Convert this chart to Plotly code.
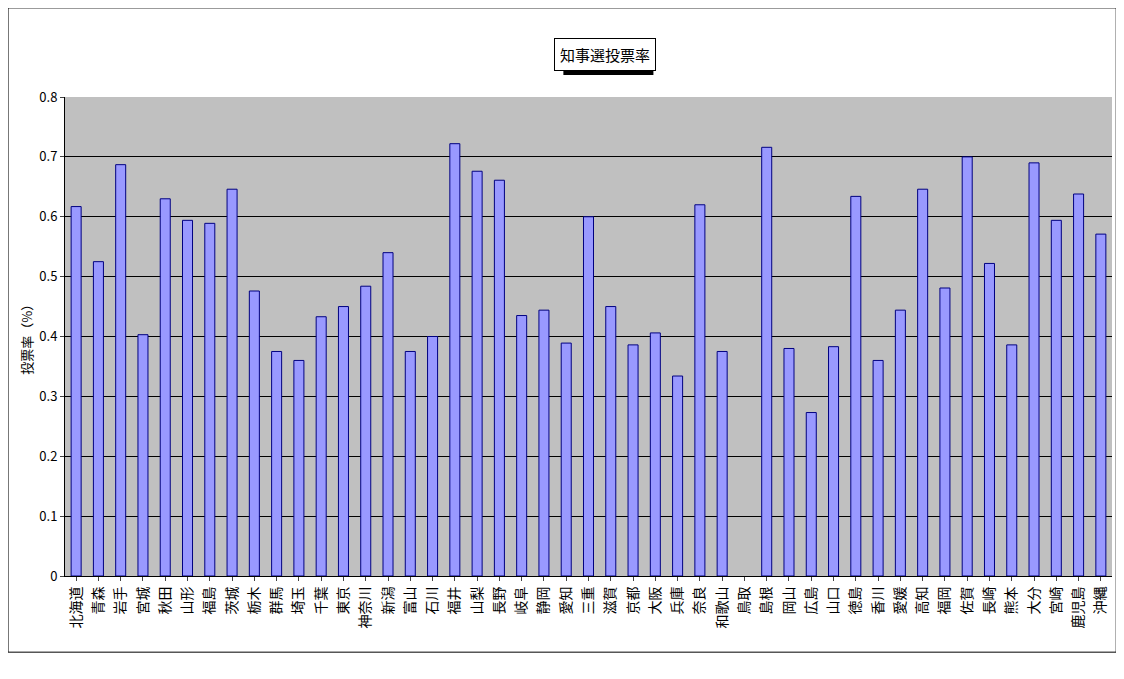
import plotly.graph_objects as go

prefs = ["北海道","青森","岩手","宮城","秋田","山形","福島","茨城","栃木","群馬","埼玉","千葉","東京","神奈川","新潟","富山","石川","福井","山梨","長野","岐阜","静岡","愛知","三重","滋賀","京都","大阪","兵庫","奈良","和歌山","鳥取","島根","岡山","広島","山口","徳島","香川","愛媛","高知","福岡","佐賀","長崎","熊本","大分","宮崎","鹿児島","沖縄"]
rates = [0.617,0.525,0.687,0.403,0.630,0.594,0.589,0.646,0.476,0.375,0.360,0.433,0.450,0.484,0.540,0.375,0.400,0.722,0.676,0.661,0.435,0.444,0.389,0.600,0.450,0.386,0.406,0.334,0.620,0.375,None,0.716,0.380,0.273,0.383,0.634,0.360,0.444,0.646,0.481,0.700,0.522,0.386,0.690,0.594,0.638,0.571]
yticks = [0,0.1,0.2,0.3,0.4,0.5,0.6,0.7,0.8]
yticklabels = ["0","0.1","0.2","0.3","0.4","0.5","0.6","0.7","0.8"]

fig = go.Figure(go.Bar(x=prefs, y=rates, width=0.45,
                       marker=dict(color="#9999ff", line=dict(color="#000080", width=1))))
font = "Noto Sans CJK JP"
fig.update_layout(
    width=1124, height=679, paper_bgcolor="white", plot_bgcolor="#c0c0c0",
    margin=dict(l=57, r=20, t=89, b=111),
    font=dict(family=font, size=13, color="black"),
    showlegend=False, bargap=0.5,
    annotations=[dict(text="知事選投票率", x=0.516, y=1.089, xref="paper", yref="paper",
                      xanchor="center", yanchor="middle",
                      showarrow=False, font=dict(size=15, color="black"),
                      bordercolor="black", borderwidth=1, bgcolor="white", borderpad=5),
                 dict(text="投票率（%）", x=-0.048, y=0.5, xref="paper", yref="paper",
                      showarrow=False, textangle=-90, font=dict(size=13))],
    shapes=[dict(type="rect", xref="paper", yref="paper", x0=-0.0544, x1=1.004, y0=-0.159, y1=1.186,
                 line=dict(color="black", width=1), layer="below"),
            dict(type="rect", xref="paper", yref="paper", x0=0.476, x1=0.562, y0=1.046, y1=1.119,
                 fillcolor="black", line=dict(width=0), layer="below")],
)
fig.update_xaxes(tickangle=-90, showline=True, linecolor="black", ticks="outside",
                 ticklen=4, tickfont=dict(size=14))
fig.update_yaxes(range=[0, 0.8], tickvals=yticks, ticktext=yticklabels, showgrid=True,
                 gridcolor="black", gridwidth=1, showline=True, linecolor="black",
                 ticks="outside", ticklen=4, zeroline=False)
fig.write_html("out.html")
